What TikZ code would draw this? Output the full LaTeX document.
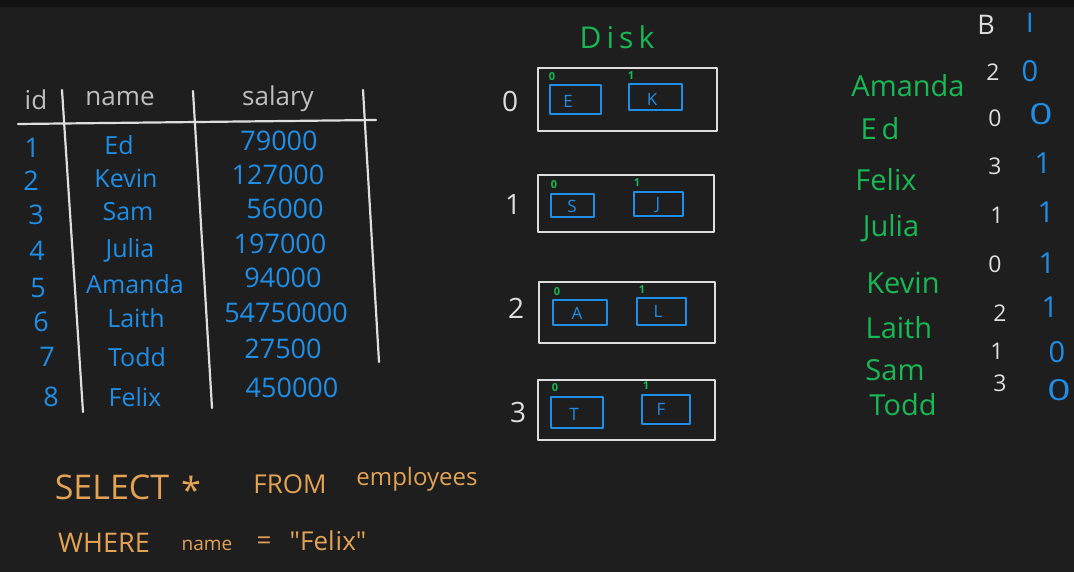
\documentclass[tikz,border=0pt]{standalone}
\usepackage{fontspec}
\setmainfont{Open Sans}
\newlength{\du}
\setlength{\du}{1pt}
\definecolor{boardcolor}{RGB}{30,30,30}
\definecolor{stripcolor}{RGB}{18,18,18}
\definecolor{chalkcolor}{RGB}{222,222,222}
\definecolor{headcolor}{RGB}{190,190,190}
\definecolor{penblue}{RGB}{30,142,230}
\definecolor{pengreen}{RGB}{24,184,84}
\definecolor{penorange}{RGB}{228,162,84}
\tikzset{
  txt/.style={inner sep=0pt, anchor=center},
  head/.style={txt, text=headcolor, font=\fontsize{26}{26}\selectfont},
  rowid/.style={txt, text=penblue, font=\fontsize{27}{27}\selectfont},
  rowname/.style={txt, text=penblue, font=\fontsize{25}{25}\selectfont},
  rowsal/.style={txt, text=penblue, font=\fontsize{27}{27}\selectfont},
  chalkline/.style={draw=chalkcolor, line width=2.2\du, line cap=round},
  blockbox/.style={draw=chalkcolor, line width=2\du, line join=round},
  slotbox/.style={draw=penblue, line width=2\du, line join=round},
  slotkey/.style={txt, text=penblue, font=\fontsize{17}{17}\selectfont},
  slotidx/.style={txt, text=pengreen, font=\bfseries\fontsize{11}{11}\selectfont},
  blocknum/.style={txt, text=chalkcolor, font=\fontsize{28}{28}\selectfont},
  keyname/.style={txt, text=pengreen, font=\fontsize{29}{29}\selectfont},
  bcol/.style={txt, text=chalkcolor, font=\fontsize{23}{23}\selectfont},
  icol/.style={txt, text=penblue, font=\fontsize{29}{29}\selectfont},
  sql/.style={txt, text=penorange, font=\fontsize{26}{26}\selectfont},
}
\begin{document}
\begin{tikzpicture}
\pgftransformxscale{1.000000}
\pgftransformyscale{-1.000000}
% board
\fill[boardcolor] (0\du,0\du) rectangle (1074\du,572\du);
\fill[stripcolor] (0\du,0\du) rectangle (1074\du,7\du);
\useasboundingbox (0\du,0\du) rectangle (1074\du,572\du);
% table lines
\coordinate (hl1) at (18\du,124\du);
\coordinate (hl2) at (376\du,120\du);
\coordinate (va1) at (62\du,90\du);
\coordinate (va2) at (83\du,412\du);
\coordinate (vb1) at (193\du,91\du);
\coordinate (vb2) at (212\du,408\du);
\coordinate (vc1) at (363\du,90\du);
\coordinate (vc2) at (379\du,362\du);
\draw[chalkline] (hl1) -- (hl2);
\draw[chalkline] (va1) -- (va2);
\draw[chalkline] (vb1) -- (vb2);
\draw[chalkline] (vc1) -- (vc2);
% table header
\node[head] (hid) at (36\du,100\du){id};
\node[head] (hname) at (120\du,99\du){name};
\node[head] (hsalary) at (278\du,99\du){salary};
% table rows
\node[rowid] (id1) at (32\du,148\du){1};
\node[rowid] (id2) at (31\du,181\du){2};
\node[rowid] (id3) at (36\du,215\du){3};
\node[rowid] (id4) at (37\du,251\du){4};
\node[rowid] (id5) at (38\du,288\du){5};
\node[rowid] (id6) at (41\du,322\du){6};
\node[rowid] (id7) at (47\du,357\du){7};
\node[rowid] (id8) at (51\du,397\du){8};
\node[rowname] (nEd) at (119\du,145\du){Ed};
\node[rowname] (nKevin) at (126\du,178\du){Kevin};
\node[rowname] (nSam) at (128\du,212\du){Sam};
\node[rowname] (nJulia) at (130\du,250\du){Julia};
\node[rowname] (nAmanda) at (135\du,284\du){Amanda};
\node[rowname] (nLaith) at (136\du,318\du){Laith};
\node[rowname] (nTodd) at (137\du,357\du){Todd};
\node[rowname] (nFelix) at (135\du,397\du){Felix};
\node[rowsal] (s1) at (279\du,141\du){79000};
\node[rowsal] (s2) at (278\du,175\du){127000};
\node[rowsal] (s3) at (285\du,209\du){56000};
\node[rowsal] (s4) at (280\du,244\du){197000};
\node[rowsal] (s5) at (283\du,278\du){94000};
\node[rowsal] (s6) at (286\du,313\du){54750000};
\node[rowsal] (s7) at (283\du,349\du){27500};
\node[rowsal] (s8) at (292\du,388\du){450000};
% disk
\node[txt, text=pengreen, font=\fontsize{30}{30}\selectfont] (disk) at (617\du,37\du){D\,i\,s\,k};
\node[blocknum] (b0) at (510\du,101\du){0};
\node[blocknum] (b1) at (513\du,205\du){1};
\node[blocknum] (b2) at (516\du,308\du){2};
\node[blocknum] (b3) at (518\du,412\du){3};
\draw[blockbox] (538\du,68\du) rectangle (717\du,131\du);
\draw[blockbox] (538\du,175\du) rectangle (714\du,232\du);
\draw[blockbox] (539\du,282\du) rectangle (715\du,343\du);
\draw[blockbox] (538\du,380\du) rectangle (715\du,440\du);
% slots
\draw[slotbox] (550\du,85\du) rectangle (601\du,114\du);
\node[slotkey] (kE) at (568\du,101\du){E};
\node[slotidx] (iE) at (552\du,77\du){0};
\draw[slotbox] (629\du,84\du) rectangle (682\du,110\du);
\node[slotkey] (kK) at (652\du,99\du){K};
\node[slotidx] (iK) at (631\du,76\du){1};
\draw[slotbox] (551\du,194\du) rectangle (594\du,217\du);
\node[slotkey] (kS) at (572\du,206\du){S};
\node[slotidx] (iS) at (554\du,185\du){0};
\draw[slotbox] (634\du,192\du) rectangle (683\du,216\du);
\node[slotkey] (kJ) at (658\du,205\du){J};
\node[slotidx] (iJ) at (637\du,183\du){1};
\draw[slotbox] (553\du,300\du) rectangle (607\du,325\du);
\node[slotkey] (kA) at (577\du,313\du){A};
\node[slotidx] (iA) at (557\du,292\du){0};
\draw[slotbox] (637\du,298\du) rectangle (686\du,325\du);
\node[slotkey] (kL) at (658\du,311\du){L};
\node[slotidx] (iL) at (642\du,290\du){1};
\draw[slotbox] (551\du,397\du) rectangle (603\du,428\du);
\node[slotkey] (kT) at (574\du,414\du){T};
\node[slotidx] (iT) at (555\du,388\du){0};
\draw[slotbox] (642\du,395\du) rectangle (690\du,424\du);
\node[slotkey] (kF) at (661\du,409\du){F};
\node[slotidx] (iF) at (646\du,386\du){1};
% index
\node[bcol, font=\fontsize{27}{27}\selectfont] (hB) at (986\du,25\du){B};
\node[icol, font=\fontsize{27}{27}\selectfont] (hI) at (1030\du,23\du){I};
\node[keyname] (gAmanda) at (908\du,86\du){Amanda};
\node[keyname] (gEd) at (880\du,129\du){E\,d};
\node[keyname] (gFelix) at (886\du,180\du){Felix};
\node[keyname] (gJulia) at (891\du,228\du){Julia};
\node[keyname] (gKevin) at (903\du,283\du){Kevin};
\node[keyname] (gLaith) at (899\du,328\du){Laith};
\node[keyname] (gSam) at (895\du,370\du){Sam};
\node[keyname] (gTodd) at (903\du,405\du){Todd};
\node[bcol] (bA) at (993\du,72\du){2};
\node[bcol] (bE) at (995\du,118\du){0};
\node[bcol] (bF) at (995\du,166\du){3};
\node[bcol] (bJ) at (997\du,215\du){1};
\node[bcol] (bK) at (995\du,264\du){0};
\node[bcol] (bL) at (1000\du,313\du){2};
\node[bcol] (bS) at (997\du,351\du){1};
\node[bcol] (bT) at (1000\du,383\du){3};
\node[icol] (oA) at (1030\du,71\du){0};
\node[icol, xscale=1.4] (oE) at (1041\du,114\du){0};
\node[icol] (oF) at (1043\du,163\du){1};
\node[icol] (oJ) at (1046\du,212\du){1};
\node[icol] (oK) at (1047\du,263\du){1};
\node[icol] (oL) at (1050\du,307\du){1};
\node[icol] (oS) at (1057\du,352\du){0};
\node[icol, xscale=1.4] (oT) at (1059\du,390\du){0};
% query
\node[sql, font=\fontsize{34}{34}\selectfont] (qselect) at (112\du,487\du){SELECT};
\node[sql, font=\fontsize{36}{36}\selectfont] (qstar) at (191\du,490\du){*};
\node[sql] (qfrom) at (290\du,484\du){FROM};
\node[sql, font=\fontsize{24}{24}\selectfont] (qtable) at (417\du,479\du){employees};
\node[sql, font=\fontsize{27}{27}\selectfont] (qwhere) at (104\du,543\du){WHERE};
\node[sql, font=\fontsize{19}{19}\selectfont] (qcol) at (207\du,545\du){name};
\node[sql] (qeq) at (264\du,543\du){=};
\node[sql] (qval) at (328\du,541\du){\textquotedbl Fel{\kern1pt}ix\textquotedbl};
\end{tikzpicture}
\end{document}
